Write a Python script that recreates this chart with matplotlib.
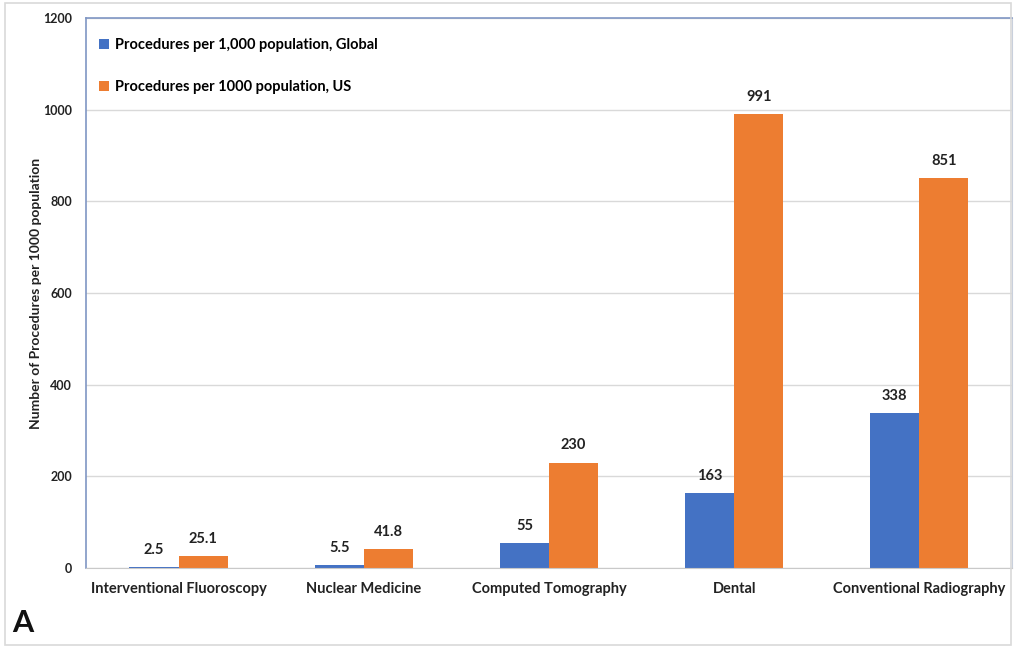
import matplotlib.pyplot as plt
import numpy as np
from matplotlib.patches import Rectangle

plt.rcParams['font.family'] = ['Lato', 'DejaVu Sans']

categories = ["Interventional Fluoroscopy", "Nuclear Medicine", "Computed Tomography",
              "Dental", "Conventional Radiography"]
global_vals = [2.5, 5.5, 55, 163, 338]
us_vals = [25.1, 41.8, 230, 991, 851]
global_labels = ["2.5", "5.5", "55", "163", "338"]
us_labels = ["25.1", "41.8", "230", "991", "851"]

blue = "#4472C4"
orange = "#ED7D31"

fig = plt.figure(figsize=(10.16, 6.48), dpi=100)
ax = fig.add_axes([0.0846, 0.1235, 0.9114, 0.8487])

# light frame around the whole figure
fig.patches.append(Rectangle((0.005, 0.004), 0.99, 0.992, transform=fig.transFigure,
                             fill=False, edgecolor="#d9d9d9", linewidth=1.2))

x = np.arange(len(categories))
w = 0.265
b1 = ax.bar(x - w / 2, global_vals, w, color=blue, label="Procedures per 1,000 population, Global")
b2 = ax.bar(x + w / 2, us_vals, w, color=orange, label="Procedures per 1000 population, US")

for bars, labs in ((b1, global_labels), (b2, us_labels)):
    for r, lab in zip(bars, labs):
        ax.text(r.get_x() + r.get_width() / 2, r.get_height() + 22, lab,
                ha="center", va="bottom", fontsize=10.5, fontweight="bold", color="#222222")

ax.set_xlim(-0.5, len(categories) - 0.5)
ax.set_ylim(0, 1200)
ax.set_yticks(range(0, 1201, 200))
ax.set_yticklabels([str(v) for v in range(0, 1201, 200)], fontsize=9, fontweight="bold",
                   color="#222222")
ax.set_xticks(x)
ax.set_xticklabels(categories, fontsize=10.5, fontweight="bold", color="#222222")
ax.tick_params(axis="both", length=0)
ax.tick_params(axis="y", pad=10)
ax.tick_params(axis="x", pad=10)
ax.yaxis.grid(True, color="#d9d9d9", linewidth=1)
ax.set_axisbelow(True)

ax.set_ylabel("Number of Procedures per 1000 population", fontsize=10, fontweight="bold",
              color="#222222")
ax.yaxis.set_label_coords(-0.048, 0.5)

for side in ("left", "top"):
    ax.spines[side].set_color("#7f96c4")
    ax.spines[side].set_linewidth(1.2)
ax.spines["right"].set_color("#c9d0dc")
ax.spines["bottom"].set_color("#c9c9c9")

ax.legend(loc="upper left", bbox_to_anchor=(0.0, 0.987), frameon=False,
          prop={"weight": "bold", "size": 10.5}, handlelength=0.7, handleheight=0.7,
          labelspacing=1.9, handletextpad=0.4)

fig.text(0.012, 0.025, "A", fontsize=22, fontweight="bold", color="#111111")

fig.savefig("out.png", dpi=100)
